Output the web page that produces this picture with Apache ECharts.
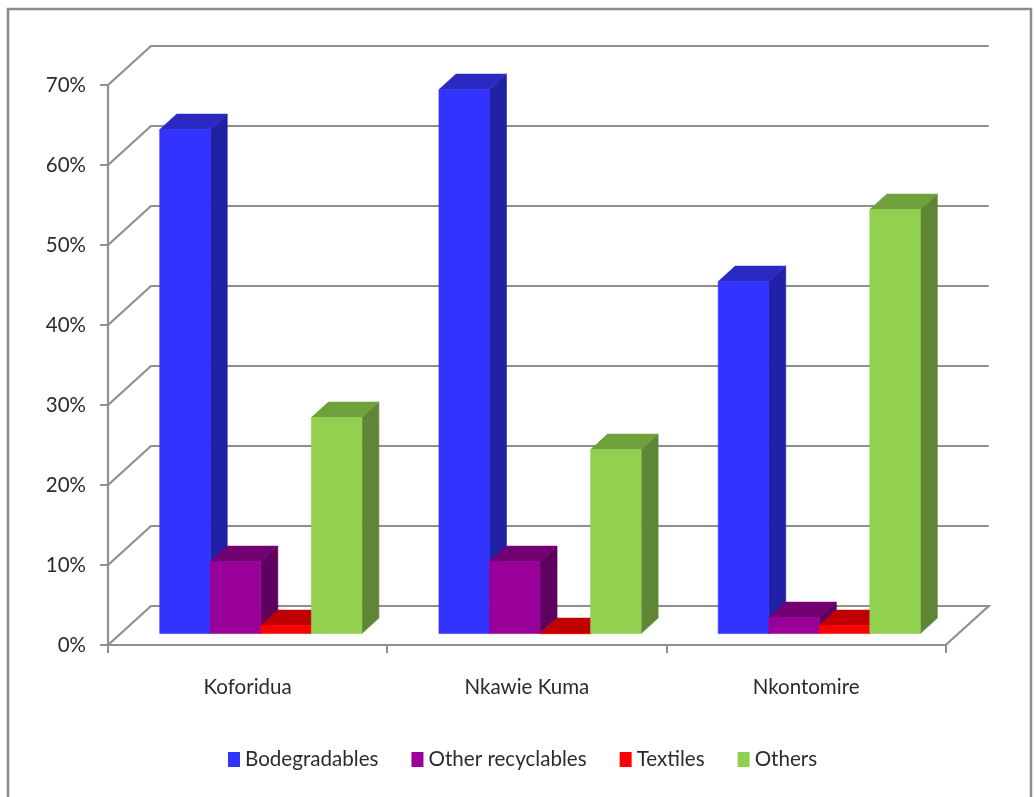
<!DOCTYPE html>
<html>
<head>
<meta charset="utf-8">
<title>Waste composition by town</title>
<script src="https://cdn.jsdelivr.net/npm/echarts@6/dist/echarts.min.js"></script>
<style>
  html, body { margin: 0; padding: 0; background: #fff; }
  #chart { width: 1034px; height: 797px; }
</style>
</head>
<body>
<div id="chart"></div>
<script>
const towns = ['Koforidua', 'Nkawie Kuma', 'Nkontomire'];
const biodegradables = [63, 68, 44];
const otherRecyclables = [9, 9, 2];
const textiles = [1, 0, 1];
const others = [27, 23, 53];
const percentTicks = [0, 10, 20, 30, 40, 50, 60, 70];

const FONT = 'Lato, "Open Sans", sans-serif';
const TEXT = '#2b2b2b';
const LINE = '#8f8f8f';

// Oblique projection used to fake the 3D box: wall depth and column depth in px.
const WALL = { dx: 43, dy: -39 };
const COLUMN_PLANE = { dx: 13.2, dy: -11.4 };
const COLUMN_DEPTH = { dx: 17, dy: -15.5 };
const COLUMN_SHARE = 0.181;

const seriesDefs = [
  { name: 'Bodegradables', values: biodegradables, front: '#3333ff', top: '#2a2ac2', side: '#2121a5' },
  { name: 'Other recyclables', values: otherRecyclables, front: '#990099', top: '#730073', side: '#5e005e' },
  { name: 'Textiles', values: textiles, front: '#ff0000', top: '#c00000', side: '#9e0000' },
  { name: 'Others', values: others, front: '#92d050', top: '#6fa03c', side: '#5f8636' }
];

// A thin stroke in the fill colour closes the hairline seams between faces.
function poly(points, fill) {
  return { type: 'polygon', shape: { points }, style: { fill, stroke: fill, lineWidth: 0.6 } };
}

// One extruded column: front face, top face and right-hand side face.
function columnRenderer(def, slot) {
  return function (params, api) {
    const cat = api.value(0);
    const base = api.coord([cat, 0]);
    const head = api.coord([cat, api.value(1)]);
    const w = api.size([1, 0])[0] * COLUMN_SHARE;
    const x0 = base[0] + COLUMN_PLANE.dx + (slot - 2) * w;
    const x1 = x0 + w;
    const yb = base[1] + COLUMN_PLANE.dy;
    const yt = head[1] + COLUMN_PLANE.dy;
    const dx = COLUMN_DEPTH.dx;
    const dy = COLUMN_DEPTH.dy;
    return {
      type: 'group',
      children: [
        poly([[x1, yb], [x1 + dx, yb + dy], [x1 + dx, yt + dy], [x1, yt]], def.side),
        poly([[x0, yt], [x1, yt], [x1 + dx, yt + dy], [x0 + dx, yt + dy]], def.top),
        poly([[x0, yb], [x1, yb], [x1, yt], [x0, yt]], def.front)
      ]
    };
  };
}

// Gridline running up the side wall and along the back wall; the zero line also closes the floor.
function wallLineRenderer(params, api) {
  const v = api.value(0);
  const y = api.coord([0, v])[1];
  const sys = params.coordSys;
  const left = sys.x;
  const right = sys.x + sys.width;
  const points = [[left, y], [left + WALL.dx, y + WALL.dy], [right + WALL.dx, y + WALL.dy]];
  if (v === 0) points.push([right, y]);
  return {
    type: 'polyline',
    shape: { points },
    style: { fill: 'none', stroke: LINE, lineWidth: 2.2 }
  };
}

const series = [{
  type: 'custom',
  name: 'walls',
  z: 1,
  silent: true,
  renderItem: wallLineRenderer,
  encode: { y: 0 },
  data: percentTicks.map(v => [v])
}].concat(seriesDefs.map((def, slot) => ({
  type: 'custom',
  name: def.name,
  z: 3 + slot,
  itemStyle: { color: def.front },
  renderItem: columnRenderer(def, slot),
  encode: { x: 0, y: 1 },
  data: def.values.map((v, i) => [i, v])
})));

const chart = echarts.init(document.getElementById('chart'), null, { renderer: 'canvas' });
chart.setOption({
  animation: false,
  backgroundColor: '#ffffff',
  graphic: [{
    type: 'rect',
    silent: true,
    z: 0,
    shape: { x: 8, y: 9, width: 1023, height: 820 },
    style: { fill: 'none', stroke: '#8c8c8c', lineWidth: 2.5 }
  }],
  grid: { left: 108, right: 88.3, top: 85, bottom: 152 },
  legend: {
    data: seriesDefs.map(d => d.name),
    left: 223,
    top: 744,
    icon: 'rect',
    itemWidth: 12,
    itemHeight: 15,
    itemGap: 33,
    selectedMode: false,
    textStyle: { fontFamily: FONT, fontSize: 20.6, color: TEXT }
  },
  xAxis: {
    type: 'category',
    data: towns,
    axisLine: { lineStyle: { color: LINE, width: 2.2 } },
    axisTick: { show: true, length: 8, alignWithLabel: false, lineStyle: { color: LINE, width: 2 } },
    axisLabel: { margin: 32, fontFamily: FONT, fontSize: 20.5, color: TEXT },
    splitLine: { show: false }
  },
  yAxis: {
    type: 'value',
    min: 0,
    max: 70,
    interval: 10,
    axisLine: { show: true, lineStyle: { color: LINE, width: 2.2 } },
    axisTick: { show: true, length: 8, lineStyle: { color: LINE, width: 2 } },
    axisLabel: { margin: 22, formatter: '{value}%', fontFamily: FONT, fontSize: 20.5, color: TEXT, padding: [4, 0, 0, 0] },
    splitLine: { show: false }
  },
  series
});
</script>
</body>
</html>
